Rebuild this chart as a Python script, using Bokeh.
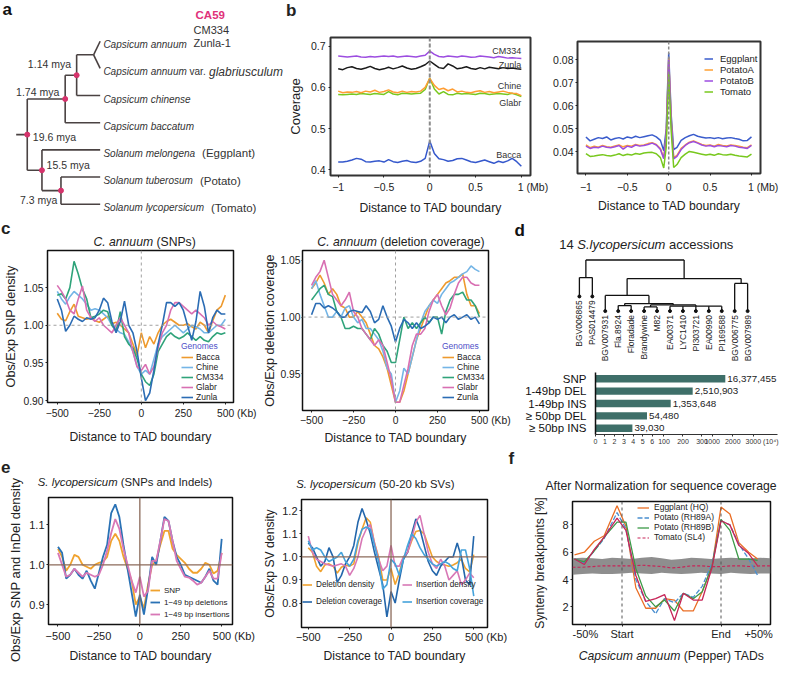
import math
from bokeh.plotting import figure
from bokeh.models import (Range1d, FactorRange, Label, Legend, LegendItem,
                          FixedTicker, Span, Div)
from bokeh.layouts import row, column
from bokeh.embed import file_html
from bokeh.resources import INLINE
from bokeh.core.properties import value

FONT = "Liberation Sans"
SX, SY = 0.98, 0.977
INK = "#222222"

# ======================= DATA =======================
# --- a: species tree ---
species = ["Capsicum annuum", "Capsicum annuum var. glabriusculum", "Capsicum chinense",
           "Capsicum baccatum", "Solanum melongena", "Solanum tuberosum", "Solanum lycopersicum"]
common_names = ["", "", "", "", "(Eggplant)", "(Potato)", "(Tomato)"]
pepper_accessions = ["CA59", "CM334", "Zunla-1"]
divergence = {"ac": "1.14 mya", "capsicum": "1.74 mya", "root": "19.6 mya",
              "solanum": "15.5 mya", "pt": "7.3 mya"}
species_tree = ("root", [("capsicum", [("ac", [("annuum", [0, 1]), 2]), 3]),
                         ("solanum", [4, ("pt", [5, 6])])])

# --- b left: coverage around TAD boundaries (Mb) ---
b_dist = [round(-1 + 0.05 * i, 2) for i in range(41)]
b_cov = {
    "CM334": [0.676,0.675,0.674,0.675,0.676,0.674,0.673,0.675,0.674,0.675,
              0.676,0.675,0.676,0.674,0.675,0.676,0.675,0.674,0.676,0.678,
              0.688,
              0.680,0.675,0.674,0.676,0.675,0.674,0.676,0.675,0.673,0.674,
              0.676,0.675,0.674,0.672,0.675,0.673,0.671,0.672,0.671,0.670],
    "Zunla": [0.645,0.643,0.648,0.650,0.646,0.644,0.647,0.651,0.646,0.643,
              0.645,0.649,0.645,0.648,0.652,0.647,0.644,0.646,0.650,0.655,
              0.664,
              0.656,0.648,0.646,0.657,0.652,0.645,0.647,0.650,0.646,0.644,
              0.648,0.645,0.649,0.647,0.645,0.648,0.646,0.647,0.645,0.644],
    "Chine": [0.591,0.587,0.589,0.588,0.590,0.587,0.591,0.589,0.593,0.588,
              0.590,0.594,0.589,0.587,0.591,0.588,0.590,0.589,0.591,0.600,
              0.622,
              0.605,0.595,0.598,0.592,0.596,0.589,0.591,0.588,0.587,0.590,
              0.592,0.588,0.590,0.587,0.589,0.591,0.588,0.586,0.585,0.580],
    "Glabr": [0.583,0.582,0.583,0.584,0.583,0.585,0.584,0.583,0.585,0.584,
              0.583,0.590,0.584,0.582,0.586,0.585,0.584,0.585,0.586,0.595,
              0.623,
              0.596,0.584,0.590,0.583,0.582,0.586,0.584,0.585,0.584,0.583,
              0.586,0.585,0.583,0.584,0.585,0.584,0.583,0.586,0.582,0.578],
    "Bacca": [0.419,0.419,0.421,0.424,0.428,0.426,0.420,0.419,0.421,0.422,
              0.419,0.425,0.420,0.418,0.421,0.423,0.419,0.418,0.421,0.428,
              0.470,
              0.440,0.427,0.425,0.421,0.423,0.427,0.428,0.424,0.420,0.418,
              0.421,0.424,0.420,0.416,0.421,0.418,0.422,0.428,0.420,0.409],
}
b_label_y = {"CM334": 0.688, "Zunla": 0.6535, "Chine": 0.603, "Glabr": 0.562, "Bacca": 0.436}

# --- b right ---
b2_dist = [-1.0,-0.95,-0.9,-0.85,-0.8,-0.75,-0.7,-0.65,-0.6,-0.55,-0.5,-0.45,-0.4,-0.35,-0.3,
           -0.25,-0.2,-0.15,-0.1,-0.06,-0.03,0.0,0.03,0.06,0.1,0.15,0.2,0.25,0.3,0.35,0.4,
           0.45,0.5,0.55,0.6,0.65,0.7,0.75,0.8,0.85,0.9,0.95,1.0]
b2_cov = {
    "Eggplant": [.0465,.0448,.0455,.0462,.0458,.0465,.0452,.0458,.0462,.0456,.0465,.0460,.0468,.0462,.0466,.0470,.0474,.0465,.0450,
                 .0405,.0500,.0830,.0560,.0410,
                 .0420,.0450,.0462,.0470,.0476,.0468,.0464,.0460,.0462,.0458,.0462,.0457,.0460,.0462,.0458,.0455,.0448,.0450,.0465],
    "PotatoA": [.0430,.0418,.0425,.0420,.0428,.0422,.0420,.0426,.0430,.0422,.0428,.0425,.0432,.0428,.0430,.0436,.0440,.0432,.0415,
                .0375,.0470,.0810,.0540,.0375,
                .0385,.0415,.0430,.0442,.0448,.0440,.0432,.0428,.0430,.0425,.0432,.0428,.0426,.0430,.0428,.0425,.0420,.0418,.0430],
    "PotatoB": [.0425,.0415,.0420,.0418,.0425,.0420,.0418,.0422,.0428,.0412,.0425,.0420,.0430,.0425,.0428,.0432,.0438,.0430,.0410,
                .0370,.0465,.0800,.0530,.0370,
                .0380,.0410,.0428,.0440,.0445,.0438,.0430,.0425,.0428,.0422,.0428,.0425,.0422,.0428,.0425,.0420,.0418,.0415,.0428],
    "Tomato": [.0392,.0380,.0382,.0385,.0388,.0384,.0382,.0386,.0392,.0384,.0390,.0386,.0393,.0390,.0395,.0397,.0398,.0392,.0375,
               .0330,.0420,.0740,.0490,.0332,
               .0345,.0375,.0390,.0402,.0398,.0394,.0390,.0386,.0390,.0385,.0392,.0388,.0386,.0390,.0385,.0382,.0380,.0378,.0390],
}

# --- c: C. annuum (kb) ---
kb = list(range(-500, 501, 25))
c_snp = {
    "Bacca": [1.016,1.008,1.006,1.018,1.028,1.012,1.010,1.008,1.010,1.006,
              1.004,1.008,1.012,1.002,1.004,1.000,0.995,0.990,0.975,0.960,
              0.990,
              0.970,0.985,0.975,0.990,1.000,1.005,1.008,1.004,1.000,1.000,
              1.002,0.998,0.995,1.004,1.000,0.990,1.006,1.020,1.025,1.040],
    "Chine": [1.045,1.035,1.028,1.038,1.045,1.040,1.035,1.028,1.020,1.022,
              1.020,1.015,1.010,1.000,0.995,0.990,0.988,0.978,0.965,0.945,
              0.935,
              0.940,0.935,0.955,0.975,0.985,0.990,0.995,1.000,0.995,0.990,
              0.995,1.000,0.998,0.995,0.990,0.990,0.995,1.000,1.000,1.008],
    "CM334": [1.040,1.042,1.035,1.050,1.085,1.068,1.048,1.035,1.010,1.012,
              1.015,1.020,1.018,1.000,0.992,1.018,0.985,0.975,0.970,0.955,
              0.935,
              0.925,0.920,0.935,0.965,0.975,0.985,0.990,0.985,0.982,0.985,
              0.990,0.985,0.980,0.985,0.980,0.978,0.985,0.990,0.988,0.990],
    "Glabr": [1.053,1.045,1.035,1.020,1.015,1.035,1.052,1.020,1.010,1.005,
              1.010,1.000,0.995,0.990,1.000,1.010,1.000,0.990,0.965,0.945,
              0.940,
              0.948,0.935,0.945,0.970,0.990,1.000,1.020,1.030,1.030,1.025,
              1.020,1.015,1.020,1.015,1.010,1.000,1.005,1.000,0.998,0.995],
    "Zunla": [1.035,1.020,0.992,1.000,1.012,1.008,1.005,1.010,1.008,1.010,
              1.020,1.036,1.030,1.005,0.990,1.005,1.032,1.000,0.990,0.965,
              0.930,
              0.900,0.910,0.940,0.975,1.000,1.030,1.030,1.025,1.030,1.020,
              1.000,0.980,1.005,1.045,1.025,0.990,1.010,1.020,1.015,1.015],
}
c_del = {
    "Bacca": [1.025,1.030,1.037,1.030,1.020,1.025,1.020,1.010,1.008,1.000,
              1.000,1.005,1.000,0.995,0.985,0.975,0.972,0.965,0.955,0.940,
              0.925,
              0.925,0.935,0.950,0.965,0.980,0.990,1.000,1.010,1.015,1.020,
              1.025,1.030,1.032,1.035,1.035,1.038,1.020,1.010,1.010,1.003],
    "Chine": [1.025,1.032,1.020,1.010,1.000,1.000,1.005,1.000,1.008,1.010,
              1.000,0.995,0.998,0.990,0.990,0.985,0.980,0.970,0.955,0.950,
              0.925,
              0.935,0.955,0.950,0.965,0.980,0.995,1.005,1.010,1.015,1.012,
              1.020,1.025,1.030,1.032,1.035,1.038,1.040,1.045,1.042,1.040],
    "CM334": [1.015,1.020,1.025,1.028,1.020,1.018,1.005,1.000,0.990,0.990,
              0.992,0.990,0.990,0.985,0.980,0.990,0.985,0.975,0.970,0.960,
              0.960,
              0.980,1.000,0.990,0.995,0.990,0.995,1.000,0.995,1.000,1.000,
              0.985,1.005,1.015,1.020,1.020,1.022,1.015,1.015,1.010,1.000],
    "Glabr": [1.028,1.035,1.040,1.050,1.035,1.020,1.015,1.010,1.015,1.022,
              1.005,1.000,0.990,0.985,0.980,0.975,0.980,0.975,0.960,0.945,
              0.925,
              0.925,0.940,0.955,0.975,0.985,0.985,0.990,1.005,1.015,1.020,
              1.010,1.002,1.008,1.020,1.030,1.035,1.035,1.030,1.028,1.028],
    "Zunla": [1.002,1.012,1.012,1.008,1.010,1.008,1.005,1.000,1.000,1.005,
              1.006,1.005,1.004,1.010,1.005,0.995,0.998,1.010,1.000,0.992,
              0.978,
              0.990,0.998,0.995,0.990,0.995,0.990,0.992,0.995,1.000,0.998,
              1.000,0.995,1.000,1.002,0.998,1.000,1.002,0.998,1.000,0.994],
}

# --- d: 14 S. lycopersicum accessions + variant counts ---
accessions = ["BGV006865", "PAS014479", "BGV007931", "Fla.8924", "Floradade", "Brandywine", "M82",
              "EA00371", "LYC1410", "PI303721", "EA00990", "PI169588", "BGV006775", "BGV007989"]
leaf_tip = [15, 15, 0, 0, 0, 0, 0, 0, 0, 0, 0, 0, 0, 0]
accession_tree = (52.3, [(34.3, [0, 1]),
                         (33.3, [(16.0, [2, (7.7, [(5.7, [3, 4]),
                                                   (6.3, [(4.3, [5, 6]), (5.0, [7, 8, 9, 10, 11])])])]),
                                 (28.3, [12, 13])])])
variant_types = ["SNP", "1-49bp DEL", "1-49bp INS", "\u2265 50bp DEL", "\u2265 50bp INS"]
variant_counts = [16377455, 2510903, 1353648, 54480, 39030]
count_ticks = [0, 1, 2, 3, 4, 5, 6, 100, 200, 300, 1000, 2000, 3000]   # x 10^4

# --- e: S. lycopersicum ---
e_small = {
    "SNP": [1.040,1.020,0.985,1.000,1.025,1.020,1.000,0.995,0.990,1.000,
            1.005,1.008,1.020,1.060,1.078,1.060,1.020,0.990,0.960,0.900,
            0.920,
            0.890,0.950,1.000,1.010,1.050,1.085,1.085,1.040,1.025,1.015,
            1.005,0.990,0.980,0.980,0.990,1.005,1.000,0.978,0.985,1.030],
    "1\u221249 bp deletions": [1.045,1.030,0.965,0.975,0.990,0.975,0.965,0.985,0.960,0.940,
            0.980,1.020,1.050,1.130,1.152,1.120,1.050,0.990,0.930,0.870,
            0.925,
            0.875,0.940,1.020,1.000,1.060,1.120,1.110,1.060,1.020,1.000,
            0.975,0.970,0.965,0.960,0.955,0.970,0.990,0.960,0.950,1.065],
    "1\u221249 bp insertions": [1.030,1.000,0.970,0.975,0.990,0.980,0.970,0.980,0.975,0.970,
            0.975,1.000,1.035,1.080,1.115,1.090,1.040,1.000,0.960,0.930,
            0.970,
            0.920,0.935,1.010,1.010,1.060,1.115,1.110,1.060,1.010,0.990,
            0.970,0.968,0.960,0.950,0.955,0.970,0.985,0.965,0.965,1.030],
}
e_sv = {
    "Deletion density": [1.040,1.020,0.960,0.936,0.965,0.970,0.960,0.930,0.955,0.965,
            0.960,0.970,1.060,1.120,1.170,1.150,1.060,1.000,0.900,0.900,
            0.950,
            0.880,0.930,1.000,1.020,1.070,1.110,1.115,1.100,1.050,1.000,
            0.980,0.970,0.965,0.960,0.965,0.975,0.990,0.950,0.935,1.010],
    "Deletion coverage": [1.060,1.040,1.000,0.960,0.980,1.040,1.000,0.890,0.920,0.970,
            1.000,1.050,1.150,1.210,1.160,1.100,1.020,0.950,0.880,0.740,
            0.850,
            0.800,0.900,0.990,1.020,1.100,1.165,1.120,1.050,0.980,0.940,
            0.920,0.960,0.980,1.000,1.000,1.060,1.000,0.900,0.880,1.090],
    "Insertion density": [1.090,1.020,0.990,0.980,0.970,0.965,0.960,0.965,0.970,0.960,
            0.920,0.950,1.000,1.080,1.120,1.140,1.060,0.990,0.940,0.960,
            1.050,
            0.960,0.960,1.000,1.020,1.080,1.150,1.180,1.100,1.020,0.970,
            0.950,0.990,0.960,0.900,0.920,0.940,0.880,0.900,0.930,0.910],
    "Insertion coverage": [1.070,1.030,1.040,1.030,1.000,0.980,0.990,1.000,1.020,0.980,
            0.960,0.990,1.070,1.120,1.130,1.120,1.050,0.980,0.860,0.880,
            0.990,
            0.970,0.920,0.990,1.050,1.100,1.080,1.040,1.010,0.990,0.970,
            0.960,0.970,0.980,0.970,0.950,0.940,1.030,1.030,0.950,0.830],
}

# --- f: synteny breakpoints (% of TAD length; Start = 0, End = 100) ---
f_pos = [-48, -38, -28, -18, -5, 4, 14, 24, 34, 43, 53, 62, 72, 81, 91, 100, 109, 118, 128, 137]
f_eggplant = [5.8, 6.0, 6.8, 7.2, 9.4, 7.9, 3.4, 1.9, 1.9, 2.6, 2.5, 1.7, 1.7, 3.1, 5.0, 9.3, 8.8, 6.7, 6.0, 5.5]
f_rh89a = [5.5, 5.2, 6.1, 7.0, 8.9, 7.7, 4.0, 2.4, 1.5, 2.6, 2.3, 3.0, 2.7, 3.5, 5.2, 8.3, 8.0, 6.6, 5.5, 4.3]
f_rh89b = [5.5, 5.3, 6.1, 7.1, 8.2, 8.2, 4.8, 2.8, 2.0, 2.5, 1.7, 3.0, 2.6, 3.1, 5.0, 8.4, 7.6, 5.5, 5.5, 5.4]
f_sl4 = [5.5, 5.1, 6.2, 7.1, 8.5, 7.6, 4.3, 2.4, 2.6, 2.9, 1.0, 3.0, 2.5, 2.5, 4.9, 8.3, 8.0, 6.5, 5.9, 5.0]
f_band_x = [-50, -40, -30, -20, -10, 0, 10, 20, 30, 40, 50, 60, 70, 80, 90, 100, 110, 120, 130, 140, 150]
f_band_hi = [5.55, 5.6, 5.55, 5.5, 5.6, 5.55, 5.5, 5.6, 5.65, 5.55, 5.45, 5.5, 5.6, 5.55, 5.5, 5.55, 5.6, 5.55, 5.55, 5.6, 5.55]
f_band_lo = [4.35, 4.4, 4.45, 4.4, 4.4, 4.45, 4.5, 4.45, 4.4, 4.5, 4.45, 4.4, 4.45, 4.5, 4.45, 4.4, 4.5, 4.45, 4.4, 4.45, 4.45]
f_band_mid = [4.9, 4.9, 4.95, 5.0, 5.0, 5.0, 5.0, 5.05, 5.0, 4.95, 4.85, 4.9, 5.0, 5.0, 4.95, 4.95, 5.0, 5.0, 4.95, 5.0, 5.0]
f_ticks = [-37, 0, 100, 138]
f_tick_labels = ["-50%", "Start", "End", "+50%"]

# ======================= HELPERS =======================
CW = {c: 556 for c in "0123456789"}
CW.update({' ': 278, '.': 278, ',': 278, '(': 333, ')': 333, '-': 333, '/': 278, '%': 889,
           '[': 278, ']': 278, '+': 584, '\u2265': 549, '\u2212': 584, '\u2074': 333})
CW.update(dict(A=667, B=667, C=722, D=722, E=667, F=611, G=778, H=722, I=278, J=500, K=667, L=556, M=833,
               N=722, O=778, P=667, Q=778, R=722, S=667, T=611, U=722, V=667, W=944, X=667, Y=667, Z=611))
CW.update(dict(a=556, b=556, c=500, d=556, e=556, f=278, g=556, h=556, i=222, j=222, k=500, l=222, m=833,
               n=556, o=556, p=556, q=556, r=333, s=500, t=278, u=556, v=500, w=722, x=500, y=500, z=500))


def tw(s, size):
    return sum(CW.get(ch, 556) for ch in s) * size / 1000.0


def padded(main, suffix):
    """Tick label whose `main` part stays centred on the tick, `suffix` trailing to the right."""
    n = int(round((278 + sum(CW.get(ch, 556) for ch in suffix)) / 278.0))
    return "\u00a0" * n + main + " " + suffix


GEO = {}


def mkfig(w, h, geom, xr, yr, outline="#222222", ow=1.5, axes=True):
    bl, bt, fw, fh = geom
    kw = {}
    if not axes:
        kw = dict(x_axis_location=None, y_axis_location=None)
    p = figure(width=w, height=h, x_range=xr, y_range=yr, output_backend="svg",
               toolbar_location=None, title=None,
               min_border_left=bl, min_border_top=bt,
               min_border_right=w - bl - fw, min_border_bottom=h - bt - fh, **kw)
    p.frame_align = False
    GEO[p.id] = geom
    p.grid.visible = False
    p.outline_line_color = outline
    p.outline_line_width = ow
    p.background_fill_color = "white"
    p.border_fill_color = "white"
    return p


def lab(p, fx, fy, text, size, style="normal", color=INK, align="left", baseline="middle"):
    # only used inside full-canvas frames
    bl, bt, fw, fh = GEO[p.id]
    p.add_layout(Label(x=fx - bl, y=bt + fh - fy, x_units="screen", y_units="screen",
                       text=text, text_font=FONT, text_font_size=f"{size}px",
                       text_font_style=style, text_color=color, text_align=align,
                       text_baseline=baseline))


def rich(p, fx, fy, parts, align="center", color=INK, baseline="middle"):
    widths = [tw(t, s) for t, st, s in parts]
    total = sum(widths)
    x = fx - total / 2 if align == "center" else fx
    for (t, st, s), w in zip(parts, widths):
        if t.strip():
            lab(p, x, fy, t, s, style=st, color=color, align="left", baseline=baseline)
        x += w
    return x


def text_div(w, h, items):
    """items: (x, y, html, size, bold, anchor[, rotate]) with (x, y) in px inside the div."""
    spans = []
    for it in items:
        x, y, html, size, bold, anchor = it[:6]
        rot = it[6] if len(it) > 6 else 0
        tx = {"center": "-50%", "left": "0", "right": "-100%"}[anchor]
        rs = " rotate(%ddeg)" % rot if rot else ""
        style = ("position:absolute;left:%spx;top:%spx;transform:translate(%s,-50%%)%s;"
                 "white-space:nowrap;font-family:'Liberation Sans',Arial,sans-serif;"
                 "font-size:%spx;line-height:1;color:#222222;font-weight:%s;"
                 % (x, y, tx, rs, size, "bold" if bold else "normal"))
        spans.append('<span style="%s">%s</span>' % (style, html))
    html = ('<div style="position:relative;width:%dpx;height:%dpx;overflow:visible;">%s</div>'
            % (w, h, "".join(spans)))
    return Div(text=html, width=w, height=h, margin=0)


def style_axis(ax, ticks, labels, size=10.5, tick_out=2, standoff=2, label=None,
               label_size=12.2, label_standoff=5):
    ax.ticker = FixedTicker(ticks=ticks)
    ax.major_label_overrides = {t: l for t, l in zip(ticks, labels)}
    ax.axis_line_color = None
    ax.major_tick_line_color = INK
    ax.major_tick_in = 0
    ax.major_tick_out = tick_out
    ax.minor_tick_line_color = None
    ax.major_label_text_font = FONT
    ax.major_label_text_font_size = f"{size}px"
    ax.major_label_text_color = INK
    ax.major_label_standoff = standoff
    if label:
        ax.axis_label = label
        ax.axis_label_text_font = FONT
        ax.axis_label_text_font_size = f"{label_size}px"
        ax.axis_label_text_font_style = "normal"
        ax.axis_label_text_color = INK
        ax.axis_label_standoff = label_standoff


def mklegend(items, loc, gw, gh, lsize, standoff, title=None, title_color=INK, title_size=8.5):
    gh = int(round(gh))
    lg = Legend(items=items, location=loc, orientation="vertical", border_line_color=None,
                background_fill_alpha=0.0, padding=0, margin=0, spacing=0,
                glyph_width=int(round(gw)), glyph_height=gh, label_height=gh, label_width=10,
                label_standoff=int(round(standoff)), label_text_font=FONT,
                label_text_font_size=f"{lsize}px", label_text_color=INK)
    if title:
        lg.title = title
        lg.title_text_font = FONT
        lg.title_text_font_size = f"{title_size}px"
        lg.title_text_font_style = "normal"
        lg.title_text_color = title_color
        lg.title_standoff = 1
    return lg


kb_ticks = [-500, -250, 0, 250, 500]
kb_labels = ["\u2212500", "\u2212250", "0", "250", padded("500", "(Kb)")]
mb_ticks = [-1, -0.5, 0, 0.5, 1]
mb_labels = ["\u22121", "\u22120.5", "0", "0.5", padded("1", "(Mb)")]

# ======================= PANEL a =======================
pA = mkfig(284, 219, (0, 0, 284, 219), Range1d(0, 284 / SX), Range1d(219 / SY, 0),
           outline=None, axes=False)
node_x = {"root": 27.3, "capsicum": 66.0, "ac": 77.7, "annuum": 95.0, "solanum": 42.3, "pt": 61.7}
LEAF_END, ROOT_STUB, Y0, DY = 101.7, 16.0, 41.7, 27.8
tx0, ty0, tx1, ty1 = [], [], [], []
dots = {}


def tseg(a, b, c, d):
    tx0.append(a); ty0.append(b); tx1.append(c); ty1.append(d)


def twalk(node):
    if isinstance(node, int):
        return Y0 + DY * node
    name, kids = node
    ys = [twalk(k) for k in kids]
    x = node_x[name]
    ym = (min(ys) + max(ys)) / 2
    for k, yk in zip(kids, ys):
        xk = LEAF_END if isinstance(k, int) else node_x[k[0]]
        if name == "annuum":
            tseg(x, ym, xk, yk)
        else:
            tseg(x, yk, xk, yk)
    if name != "annuum":
        tseg(x, min(ys), x, max(ys))
        dots[name] = (x, ym)
    return ym


root_y = twalk(species_tree)
tseg(ROOT_STUB, root_y, node_x["root"], root_y)
pA.segment(x0=tx0, y0=ty0, x1=tx1, y1=ty1, line_color="#4a4242", line_width=1.6)
pA.scatter(x=[v[0] for v in dots.values()], y=[v[1] for v in dots.values()], size=5,
           color="#d6336c")

age_off = {"ac": (-5.7, -11.7, "right"), "capsicum": (-6, -7, "right"), "root": (5.7, 2, "left"),
           "solanum": (4.7, -5, "left"), "pt": (-3.7, 9.7, "right")}
for name, txt in divergence.items():
    nx, ny = dots[name]
    ox, oy, al = age_off[name]
    lab(pA, (nx + ox) * SX, (ny + oy) * SY, txt, 10.5, color="#333333", align=al)

for i, sp in enumerate(species):
    fy = (Y0 + DY * i) * SY + 3.5
    fx = 105 * SX
    if "var." in sp:
        head, tail = sp.split(" var. ")
        end = rich(pA, fx, fy, [(head, "italic", 10), (" ", "normal", 10), ("var.", "normal", 10),
                                (" ", "normal", 10), (tail, "italic", 12)],
                   align="left", color="#333333", baseline="alphabetic")
    else:
        end = rich(pA, fx, fy, [(sp, "italic", 10)], align="left", color="#333333",
                   baseline="alphabetic")
    if common_names[i]:
        lab(pA, end + 7, fy, common_names[i], 11.5, color="#333333", baseline="alphabetic")

acc_pos = [(199, 15), (197, 30), (197, 43)]
for (ax_, ay_), acc in zip(acc_pos, pepper_accessions):
    if acc == "CA59":
        lab(pA, ax_ * SX, ay_ * SY, acc, 11.5, style="bold", color="#e0307a")
    else:
        lab(pA, ax_ * SX, ay_ * SY, acc, 11, color="#333333")
lab(pA, 2, 9, "a", 17, style="bold", color="#111111")

# ======================= PANEL b =======================
b_colors = {"CM334": "#9c4de0", "Zunla": "#1a1a1a", "Chine": "#ff9d33", "Glabr": "#78c81e",
            "Bacca": "#3558cc"}
divB = text_div(265, 20, [(2, 10, "b", 17, True, "left")])
pBL = mkfig(265, 199, (45, 17, 201, 138), Range1d(-1.084, 1.10), Range1d(0.3865, 0.721),
            outline="#333333", ow=2)
pBL.add_layout(Span(location=0, dimension="height", line_color="#8a8a8a", line_dash="4 2",
                    line_width=2))
for name in ["Bacca", "Glabr", "Chine", "Zunla", "CM334"]:
    pBL.line(b_dist, b_cov[name], line_color=b_colors[name], line_width=1.5)
for name, yv in b_label_y.items():
    pBL.add_layout(Label(x=1.0, y=yv, text=name, text_font=FONT, text_font_size="9px",
                         text_color="#333333", text_align="right", text_baseline="middle"))
style_axis(pBL.xaxis[0], mb_ticks, mb_labels, size=10.5, standoff=3,
           label="Distance to TAD boundary", label_size=12.2, label_standoff=5)
style_axis(pBL.yaxis[0], [0.4, 0.5, 0.6, 0.7], ["0.4", "0.5", "0.6", "0.7"], size=10.5,
           standoff=3, label="Coverage", label_size=13, label_standoff=5)

b2_colors = {"Eggplant": "#3a5ccc", "PotatoA": "#ffa033", "PotatoB": "#9c4de0", "Tomato": "#78c81e"}
pBR = mkfig(230, 219, (28, 41, 183, 132), Range1d(-1.102, 1.109), Range1d(0.0306, 0.088),
            outline="#333333", ow=2)
pBR.add_layout(Span(location=0, dimension="height", line_color="#8a8a8a", line_dash="3 2",
                    line_width=1.5))
items = []
for name in ["Eggplant", "PotatoA", "PotatoB", "Tomato"]:
    r = pBR.line(b2_dist, b2_cov[name], line_color=b2_colors[name], line_width=1.5)
    items.append(LegendItem(label=name, renderers=[r]))
pBR.add_layout(mklegend(items, (127, 76), 9, 11, 9.5, 7))
style_axis(pBR.xaxis[0], mb_ticks, mb_labels, size=10.5, standoff=5,
           label="Distance to TAD boundary", label_size=12.2, label_standoff=3)
style_axis(pBR.yaxis[0], [0.04, 0.05, 0.06, 0.07, 0.08], ["0.04", "0.05", "0.06", "0.07", "0.08"],
           size=10.5, standoff=2)

# ======================= PANEL c =======================
c_colors = {"Bacca": "#ee9a2e", "Chine": "#74b5e6", "CM334": "#2fa37a", "Glabr": "#d86fb2",
            "Zunla": "#2b6cb4"}


def c_panel(w, geom, xr, yr, data, yticks, ylab, leg_loc, x_standoff, xl_standoff,
            y_tick_out, y_standoff, yl_standoff):
    p = mkfig(w, 199, geom, xr, yr, outline="#111111", ow=1.5)
    p.add_layout(Span(location=0, dimension="height", line_color="#a0a0a0", line_dash="3 3",
                      line_width=1))
    p.add_layout(Span(location=1.0, dimension="width", line_color="#a0a0a0", line_dash="3 3",
                      line_width=1))
    its = []
    for name in ["Bacca", "Chine", "CM334", "Glabr", "Zunla"]:
        r = p.line(kb, data[name], line_color=c_colors[name], line_width=1.6)
        its.append(LegendItem(label=name, renderers=[r]))
    p.add_layout(mklegend(its, leg_loc, 12, 10, 8.5, 3, title="Genomes",
                          title_color="#4f4fc8", title_size=8.5))
    style_axis(p.xaxis[0], kb_ticks, kb_labels, size=10.3, standoff=x_standoff,
               label="Distance to TAD boundary", label_size=12.2, label_standoff=xl_standoff)
    style_axis(p.yaxis[0], yticks, [f"{t:.2f}" for t in yticks], size=10.3, tick_out=y_tick_out,
               standoff=y_standoff, label=ylab, label_size=12.7, label_standoff=yl_standoff)
    return p


divC = text_div(260, 30, [(1, 8.6, "c", 17, True, "left"),
                          (144.6, 23.3, "<i>C. annuum</i> (SNPs)", 12.2, False, "center")])
pCL = c_panel(260, (47, 1, 186, 152), Range1d(-558, 548.5), Range1d(0.8974, 1.0993), c_snp,
              [0.90, 0.95, 1.00, 1.05], "Obs/Exp SNP density", (134, 0), 3, 8, 2, 2, 2)
divC2 = text_div(253, 30, [(141, 23.3, "<i>C. annuum</i> (deletion coverage)", 12.2, False, "center")])
pCR = c_panel(253, (41, 1, 187, 160), Range1d(-554, 554), Range1d(0.9178, 1.0586), c_del,
              [0.95, 1.00, 1.05], "Obs/Exp deletion coverage", (140, 8), 2, 2, 1, 1, 0)

# ======================= PANEL d =======================
pDD = mkfig(266, 145, (0, 0, 266, 145), Range1d(-5.093, 15.464), Range1d(-54.66, 93.76),
            outline=None, axes=False)
dx0, dy0, dx1, dy1 = [], [], [], []


def dwalk(node):
    if isinstance(node, int):
        return float(node), leaf_tip[node]
    h, kids = node
    info = [dwalk(k) for k in kids]
    xs = [v[0] for v in info]
    dx0.append(xs[0]); dy0.append(h); dx1.append(xs[-1]); dy1.append(h)
    for xk, hk in info:
        dx0.append(xk); dy0.append(h); dx1.append(xk); dy1.append(hk)
    return (xs[0] + xs[-1]) / 2, h


dwalk(accession_tree)
pDD.segment(x0=dx0, y0=dy0, x1=dx1, y1=dy1, line_color="#111111", line_width=1.3)
leaf_idx = list(range(len(accessions)))
pDD.scatter(x=leaf_idx, y=leaf_tip, size=3, color="#111111")
pDD.text(x=leaf_idx, y=[t - 4 for t in leaf_tip], text=accessions, angle=math.pi / 2,
         text_font=value(FONT), text_font_size="8.5px", text_color=INK, text_align="right",
         text_baseline="middle")
rich(pDD, 132.8, 24.9, [("14", "normal", 13), (" ", "normal", 13),
                        ("S.lycopersicum", "italic", 13), (" ", "normal", 13),
                        ("accessions", "normal", 13)])
lab(pDD, 1, 10.6, "d", 17, style="bold", color="#111111")


def brk(v):
    if v <= 10:
        return v * 9.8
    if v <= 500:
        return 71.0 + (v - 100.0) * 0.197
    return 121.0 + (v - 1000.0) * 0.0213


pDB = mkfig(266, 84, (82, 8, 182, 62), Range1d(0, 188.7), FactorRange(factors=variant_types[::-1]),
            outline=None)
bar_right = [brk(c / 1e4) for c in variant_counts]
pDB.hbar(y=variant_types, left=0, right=bar_right, height=0.6, fill_color="#3e6f69",
         line_color=None)
pDB.text(x=bar_right, y=variant_types, text=[f"{c:,}" for c in variant_counts], x_offset=2,
         text_font=value(FONT), text_font_size="9.8px", text_color=INK, text_align="left",
         text_baseline="middle")
xa = pDB.xaxis[0]
tick_pos = [brk(t) for t in count_ticks]
tick_txt = [str(t) for t in count_ticks]
tick_txt[-1] = padded("3000", "(10\u2074)")
xa.ticker = FixedTicker(ticks=tick_pos)
xa.major_label_overrides = {tp: t for tp, t in zip(tick_pos, tick_txt)}
xa.axis_line_color = "#333333"
xa.axis_line_width = 1
xa.major_tick_line_color = "#333333"
xa.major_tick_out = 2
xa.major_tick_in = 0
xa.minor_tick_line_color = None
xa.major_label_text_font = FONT
xa.major_label_text_font_size = "7px"
xa.major_label_text_color = "#333333"
xa.major_label_standoff = 1
ya = pDB.yaxis[0]
ya.axis_line_color = "#111111"
ya.axis_line_width = 1.5
ya.major_tick_line_color = None
ya.minor_tick_line_color = None
ya.major_label_text_font = FONT
ya.major_label_text_font_size = "11.5px"
ya.major_label_text_color = "#111111"
ya.major_label_standoff = 3

# ======================= PANEL e =======================
e_colors = {"SNP": "#f0a22e", "1\u221249 bp deletions": "#2a72b5",
            "1\u221249 bp insertions": "#d878b6",
            "Deletion density": "#f0a22e", "Deletion coverage": "#2366ab",
            "Insertion density": "#d878b6", "Insertion coverage": "#45a3db"}
BROWN = "#8b6a5a"

divEy = text_div(24, 217, [(1, 18.9, "e", 17, True, "left"),
                           (14.7, 122, "Obs/Exp SNP and InDel density", 13, False, "center", -90)])
divE = text_div(236, 44, [(101.1, 34.8, "<i>S. lycopersicum</i> (SNPs and Indels)", 11.3, False, "center")])
pEL = mkfig(236, 173, (24, 5, 184, 131), Range1d(-558, 566), Range1d(0.85, 1.169),
            outline="#111111", ow=1.5)
pEL.add_layout(Span(location=0, dimension="height", line_color=BROWN, line_width=1.3))
pEL.add_layout(Span(location=1.0, dimension="width", line_color=BROWN, line_width=1.3))
its = []
for name in e_small:
    r = pEL.line(kb, e_small[name], line_color=e_colors[name], line_width=1.8)
    its.append(LegendItem(label=name, renderers=[r]))
pEL.add_layout(mklegend(its, (102, 4), 10, 12, 8, 4))
style_axis(pEL.xaxis[0], kb_ticks, kb_labels, size=11, standoff=3,
           label="Distance to TAD boundary", label_size=12.2, label_standoff=4)
style_axis(pEL.yaxis[0], [0.9, 1.0, 1.1], ["0.9", "1.0", "1.1"], size=11, standoff=2)

divE2 = text_div(259, 44, [(248.5, 10.1, "f", 17, True, "left"),
                           (115.3, 36.5, "<i>S. lycopersicum</i> (50-20 kb SVs)", 11.3, False, "center")])
pER = mkfig(259, 173, (41, 7, 186, 132), Range1d(-541, 583), Range1d(0.694, 1.249),
            outline="#111111", ow=1.5)
pER.add_layout(Span(location=0, dimension="height", line_color=BROWN, line_width=1.3))
pER.add_layout(Span(location=1.0, dimension="width", line_color=BROWN, line_width=1.3))
rends = {}
for name in e_sv:
    rends[name] = pER.line(kb, e_sv[name], line_color=e_colors[name], line_width=1.6)
pER.add_layout(mklegend([LegendItem(label=n, renderers=[rends[n]])
                         for n in ["Deletion density", "Deletion coverage"]], (1, 17), 10, 17, 8.2, 4))
pER.add_layout(mklegend([LegendItem(label=n, renderers=[rends[n]])
                         for n in ["Insertion density", "Insertion coverage"]], (101, 17), 10, 17, 8.2, 4))
style_axis(pER.xaxis[0], kb_ticks, kb_labels, size=11, standoff=1,
           label="Distance to TAD boundary", label_size=12.2, label_standoff=3)
style_axis(pER.yaxis[0], [0.8, 0.9, 1.0, 1.1, 1.2], ["0.8", "0.9", "1.0", "1.1", "1.2"], size=11,
           standoff=2, label="Obs/Exp SV density", label_size=12.2, label_standoff=2)

# ======================= PANEL f =======================
divF = text_div(260, 44, [(142, 37.5, "After Normalization for sequence coverage", 12.2, False, "center")])
pF = mkfig(260, 153, (53, 9, 198, 123), Range1d(-50, 150), Range1d(0.71, 9.71),
           outline="#111111", ow=1.5)
pF.varea(x=f_band_x, y1=f_band_lo, y2=f_band_hi, fill_color="#7a7a7a", fill_alpha=0.85)
r_mean = pF.line(f_band_x, f_band_mid, line_color="#c72558", line_dash="3 2", line_width=1.2)
for loc in (0, 100):
    pF.add_layout(Span(location=loc, dimension="height", line_color="#555555", line_dash="3 3",
                       line_width=1))
r_egg = pF.line(f_pos, f_eggplant, line_color="#ea6e25", line_width=1.3)
r_a = pF.line(f_pos, f_rh89a, line_color="#4a8fd0", line_width=1.3, line_dash="5 2")
r_b = pF.line(f_pos, f_rh89b, line_color="#3c9a48", line_width=1.3)
pF.line(f_pos, f_sl4, line_color="#c72558", line_width=1.3)
pF.add_layout(mklegend([LegendItem(label="Eggplant (HQ)", renderers=[r_egg]),
                        LegendItem(label="Potato (RH89A)", renderers=[r_a]),
                        LegendItem(label="Potato (RH89B)", renderers=[r_b]),
                        LegendItem(label="Tomato (SL4)", renderers=[r_mean])],
                       (65, 82), 12, 9, 8.5, 5))
style_axis(pF.xaxis[0], f_ticks, f_tick_labels, size=11, standoff=1)
style_axis(pF.yaxis[0], [2, 4, 6, 8], ["2", "4", "6", "8"], size=11, standoff=2,
           label="Synteny breakpoints [%]", label_size=12.2, label_standoff=12)
divFx = text_div(260, 20, [(152.3, 10.5, "<i>Capsicum annuum</i> (Pepper) TADs", 12.2, False, "center")])

# ======================= LAYOUT =======================
layout = column(
    row(pA, column(divB, pBL), pBR),
    row(column(divC, pCL), column(divC2, pCR), column(pDD, pDB)),
    row(divEy, column(divE, pEL), column(divE2, pER), column(divF, pF, divFx)),
)

open("out.html", "w").write(file_html(layout, INLINE))
